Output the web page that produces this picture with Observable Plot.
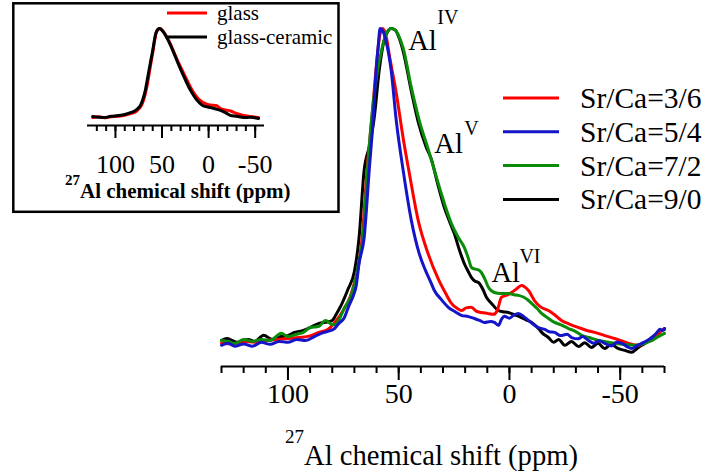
<!DOCTYPE html>
<html><head><meta charset="utf-8">
<script src="https://cdn.jsdelivr.net/npm/d3@7"></script>
<script src="https://cdn.jsdelivr.net/npm/@observablehq/plot@0.6"></script>
<style>
body{margin:0;background:#fff;}
#wrap{position:relative;width:706px;height:473px;overflow:hidden;background:#fff;}
#wrap svg{position:absolute;left:0;top:0;}
</style></head><body><div id="wrap"></div>
<script>
const FONT = "'Liberation Serif','Times New Roman',serif";

// ---- main chart data: [ppm, normalised intensity] ----
const seriesNames = ["Sr/Ca=3/6", "Sr/Ca=5/4", "Sr/Ca=7/2", "Sr/Ca=9/0"];
const seriesColors = ["#ff0000", "#1414c8", "#0a8c0a", "#000000"];

const sr3ca6 = [[130,2.2],[125,2.0],[120,2.8],[115,2.5],[110,3.1],[105,3.4],[100,3.7],[95,4.0],[90,4.5],[86,5.6],[82,6.5],[79,8.5],[75,12.5],[72,16.5],[70,21],[68,27],[66.5,35],[64.3,56],[62,73],[60,89],[58.5,98],[57.2,100],[55.5,97],[54.3,92],[51.1,80],[48,66],[45.2,55],[41.2,40.4],[36.7,30],[32,22],[29,18],[26.2,14.6],[23.5,13],[21.7,12.4],[19.5,13.2],[17.2,13.4],[15,12.2],[12.7,11.8],[10,11.5],[7.2,11.2],[5.5,12.4],[3.6,16.5],[1,17.2],[-0.9,18.0],[-3,19],[-5.4,20.2],[-8.6,18.6],[-11.3,15.5],[-14,13.5],[-17.6,12.4],[-20.5,11],[-23.5,9.3],[-27,8.2],[-31.2,7.1],[-35,6.2],[-38.5,5.6],[-43,4.6],[-47.5,3.7],[-50.5,3.0],[-53.8,2.2],[-58.4,1.6],[-61,2.5],[-64.3,3.1],[-66.5,4.5],[-68.8,6.2],[-70,6.8]];

const sr5ca4 = [[130,1.6],[127,2.2],[124,1.3],[120,2.0],[116,1.3],[112,2.5],[108,1.9],[104,2.8],[100,2.5],[96,3.4],[92,3.1],[88,4.3],[85,5.3],[82,5.9],[79,6.8],[77,8.4],[74.7,10],[72.4,14],[70.5,17],[69.2,20],[67.9,27],[65.6,35],[63.3,56],[61.5,72],[60.2,87],[59.2,95],[58.4,100],[57,99],[55.7,96],[53.4,87],[51.1,71.4],[48,56],[44.3,40.4],[40.7,30],[38,25],[35.3,20.8],[33.9,18.6],[31,16],[27.6,13.4],[24.5,12],[21.7,10.9],[18.5,10.5],[15.8,9.9],[13.5,9.3],[11.3,8.7],[8.5,9],[6.8,8.7],[5,7.8],[3.5,9.8],[2.3,10.6],[0,10],[-2,11],[-4.1,11.5],[-6.5,10.5],[-8.6,9.3],[-11,8.0],[-13.1,7.1],[-16,6.5],[-18,5.8],[-20.4,5.6],[-23,4.6],[-26,5.0],[-28.1,4.0],[-31,3.6],[-33,4.3],[-35.7,3.1],[-38,2.2],[-40.5,3.0],[-43,2.2],[-46,1.4],[-48.5,2.5],[-50.7,2.2],[-53,1.2],[-55.2,0.6],[-57.5,1.5],[-59.7,2.2],[-62,3.0],[-64.3,4.0],[-66.5,5.5],[-67.9,6.6],[-69,6.2],[-70,6.8]];

const sr7ca2 = [[130,3.1],[127,2.8],[124,2.2],[120,3.4],[116,2.8],[112,3.4],[108,3.1],[103,5.3],[100,4.3],[96,5.0],[93,5.6],[90,7.1],[86,7.5],[83,9.3],[80.5,8.2],[79,8.0],[77,9.5],[74.7,13],[71.5,17],[69.2,23],[67.9,28],[66,36],[64.5,52],[62.5,70],[60,85],[57.5,94],[55.5,98.5],[53.4,100],[51.5,99.5],[50.2,98],[48,94],[44.3,81.7],[40.7,71.4],[36.7,62.5],[33.9,56],[30.8,48.8],[26.2,39.4],[23,35],[20.4,32],[18.5,28.5],[17.2,25.8],[15.8,25.3],[14,25],[12.7,24.2],[11,22],[9.5,19.6],[6.8,18],[4,17.7],[2,17.7],[0.5,17.7],[-2,17.3],[-4.1,17.1],[-6.5,16.5],[-8.6,15.5],[-10,14.6],[-12.5,13],[-14.5,11.5],[-17.5,10],[-20.4,8.7],[-23,8],[-26.7,6.8],[-29.5,6.0],[-32.6,4.7],[-36,4.0],[-40.3,3.1],[-44,2.6],[-47.5,2.2],[-52,1.8],[-56.6,1.6],[-60,2.0],[-64.3,3.1],[-67,4.2],[-70,5.3]];

const sr9ca0 = [[130,3.1],[127.5,3.7],[125,3.0],[123,2.5],[120,3.1],[118,3.4],[115,2.8],[111,4.7],[107,3.4],[103,4.3],[100,4.6],[97,5.6],[93,6.2],[90,7.1],[86,8.4],[83,8.7],[80,9.3],[78,11.5],[76,14],[72.9,19],[70,24.5],[67.9,35],[65.6,56],[63,64],[61.1,72],[58.8,87],[56.6,96.3],[55,99],[53.4,100],[51.5,99.5],[50.2,97.8],[48,93],[44.3,80.5],[41.2,71],[37.5,63],[35.3,59.5],[32.5,52],[29.4,44.4],[27,40],[24.9,36.3],[22.5,31],[20.4,27],[18.6,24.5],[17.2,22.7],[15.5,21.5],[14,21.1],[12,19],[10.4,16.5],[8.1,14.6],[5,12.4],[3,12.0],[0.5,11.8],[-2.5,11.0],[-5.4,10.2],[-7.5,9.5],[-10,8.7],[-13.1,6.8],[-15,5.3],[-17.6,4.0],[-20,2.5],[-22.2,3.4],[-25,1.6],[-28,2.8],[-31.2,1.2],[-34,2.4],[-37,0.9],[-40,2.2],[-43,0.6],[-46,1.9],[-49,0.6],[-52,0],[-55.2,-0.6],[-57.5,0.5],[-59.7,1.6],[-62,2.5],[-64.3,4.0],[-66.5,5.0],[-68.8,6.2],[-70,6.5]];

const mainSeries = [sr3ca6, sr5ca4, sr7ca2, sr9ca0];
const drawOrder = [3, 0, 2, 1];
const xTicksMajor = [100, 50, 0, -50];
const xTicksMinor = d3.range(-70, 131, 10);

// annotations in data coordinates
const annotBase = ["Al", "Al", "Al"];
const annotSup = ["IV", "V", "VI"];
const annotPpm = [45.7, 33.9, 8.1];
const annotInt = [93.2, 61.2, 21.1];
const annotSupPpm = [32.6, 20.4, -4.5];
const annotSupInt = [101.5, 66.8, 27.3];

// ---- inset data ----
const insetNames = ["glass", "glass-ceramic"];
const insetColors = ["#ff0000", "#000000"];
const glass = [[124.4,1.1],[118,1.8],[112,0.8],[105,2.0],[97,2.5],[90,3.5],[83,5.6],[79,7.0],[76,9.5],[73,13],[71,17],[68,27],[65.4,40],[62.5,58],[60,73],[58,86],[56.8,93],[54.5,98.5],[52.5,100],[50.5,99],[48.2,96],[44.5,90],[40.7,82],[37,73],[33.2,64],[28.5,54],[24.6,45.6],[20,36],[16.1,28.9],[11,22],[6.4,18],[2,16],[-2.1,15],[-8,14.4],[-12.9,11.1],[-18,9.5],[-23.6,8.3],[-30,5.5],[-37.5,3.3],[-45,2.2],[-53.6,1.1]];
const glassCeramic = [[124.4,2.2],[118,1.5],[112,1.1],[105,2.4],[97,3.3],[90,4.5],[83,6.7],[79,8.5],[76,11],[73,15],[71,20],[68,31],[65.4,45.6],[62.5,62],[60,75.6],[58,88],[56.8,94.4],[54.5,99],[52.5,100],[50.5,98.5],[48.2,95.6],[44.5,89],[40.7,81],[37,72],[33.2,62.2],[28.5,51],[24.6,42.2],[20,32.5],[16.1,25.6],[11,18.5],[6.4,14.4],[2,13],[-2.1,12.2],[-7,10.8],[-12.9,8.9],[-18,6.5],[-23.6,3.3],[-30,2.6],[-37.5,1.1],[-45,1.3],[-53.6,0]];
const insetSeries = [glass, glassCeramic];
const insetTicksMajor = [100, 50, 0, -50];
const insetTicksMinor = d3.range(-50, 121, 10);

// ---- main plot ----
const toRows = arr => arr.map(([p, v]) => ({ppm: p, intensity: v}));
const annots = annotBase.map((b, i) => ({base: b, sup: annotSup[i], ppm: annotPpm[i], intensity: annotInt[i], sppm: annotSupPpm[i], sint: annotSupInt[i]}));
const hyphenFmt = d => `${d}`;

const main = Plot.plot({
  width: 706, height: 473,
  marginLeft: 221, marginRight: 42, marginTop: 28, marginBottom: 107,
  x: {domain: [130, -70]},
  y: {domain: [-5, 100], axis: null},
  style: {fontFamily: FONT, background: "transparent", color: "black", overflow: "visible"},
  marks: [
    Plot.ruleY([-5], {stroke: "black", strokeWidth: 2}),
    Plot.axisX({ticks: xTicksMinor, tickSize: 7, tickFormat: () => "", strokeWidth: 2, label: null}),
    Plot.axisX({ticks: xTicksMajor, tickSize: 14, tickPadding: 3, fontSize: 28, strokeWidth: 2, label: null, fill: "black", tickFormat: hyphenFmt}),
    ...drawOrder.map(i => Plot.line(toRows(mainSeries[i]), {x: "ppm", y: "intensity", stroke: seriesColors[i], strokeWidth: 3, curve: "monotone-x", strokeLinejoin: "round"})),
    Plot.text(annots, {x: "ppm", y: "intensity", text: "base", textAnchor: "start", lineAnchor: "bottom", fontSize: 28.5, fill: "black"}),
    Plot.text(annots, {x: "sppm", y: "sint", text: "sup", textAnchor: "start", lineAnchor: "bottom", fontSize: 20, fill: "black"})
  ]
});
document.getElementById("wrap").appendChild(main);

const ms = d3.select(main);
// axis title with superscript
const title = ms.append("text").attr("x", 285).attr("y", 465).attr("text-anchor", "start").attr("font-family", FONT).attr("font-size", 28.6).attr("fill", "black");
title.append("tspan").attr("font-size", 19).attr("dy", -22).text("27");
title.append("tspan").attr("dy", 22).text("Al chemical shift (ppm)");
// legend
seriesNames.forEach((name, i) => {
  const y = 98 + i * 33.8;
  ms.append("line").attr("x1", 503).attr("x2", 559).attr("y1", y).attr("y2", y).attr("stroke", seriesColors[i]).attr("stroke-width", 3);
  ms.append("text").attr("x", 580).attr("y", y + 10).attr("text-anchor", "start").attr("font-family", FONT).attr("font-size", 29.5).attr("fill", "black").text(name);
});

// ---- inset plot ----
const inset = Plot.plot({
  width: 345, height: 215,
  marginLeft: 87, marginRight: 81, marginTop: 28, marginBottom: 90,
  x: {domain: [130, -60]},
  y: {domain: [-7.8, 100], axis: null},
  style: {fontFamily: FONT, background: "transparent", color: "black", overflow: "visible"},
  marks: [
    Plot.ruleY([-7.8], {stroke: "black", strokeWidth: 2}),
    Plot.axisX({ticks: insetTicksMinor, tickSize: 6, tickFormat: () => "", strokeWidth: 2, label: null}),
    Plot.axisX({ticks: insetTicksMajor, tickSize: 13, tickPadding: 16, fontSize: 26, strokeWidth: 2, label: null, fill: "black", tickFormat: hyphenFmt}),
    ...insetSeries.map((arr, i) => Plot.line(toRows(arr), {x: "ppm", y: "intensity", stroke: insetColors[i], strokeWidth: 3, curve: "monotone-x", strokeLinejoin: "round"}))
  ]
});
document.getElementById("wrap").appendChild(inset);
const is = d3.select(inset);
is.insert("rect", ":first-child").attr("x", 13.3).attr("y", 3.3).attr("width", 325.2).attr("height", 208.5).attr("fill", "white").attr("stroke", "black").attr("stroke-width", 2.5);
const it = is.append("text").attr("x", 65).attr("y", 198).attr("text-anchor", "start").attr("font-family", FONT).attr("font-weight", "bold").attr("font-size", 21).attr("fill", "black");
it.append("tspan").attr("font-size", 15).attr("dy", -13).text("27");
it.append("tspan").attr("dy", 13).text("Al chemical shift (ppm)");
insetNames.forEach((name, i) => {
  const y = 13 + i * 24;
  is.append("line").attr("x1", 167).attr("x2", 207).attr("y1", y).attr("y2", y).attr("stroke", insetColors[i]).attr("stroke-width", 3);
  is.append("text").attr("x", 217).attr("y", y + 7).attr("text-anchor", "start").attr("font-family", FONT).attr("font-size", 21).attr("fill", "black").text(name);
});
</script></body></html>
